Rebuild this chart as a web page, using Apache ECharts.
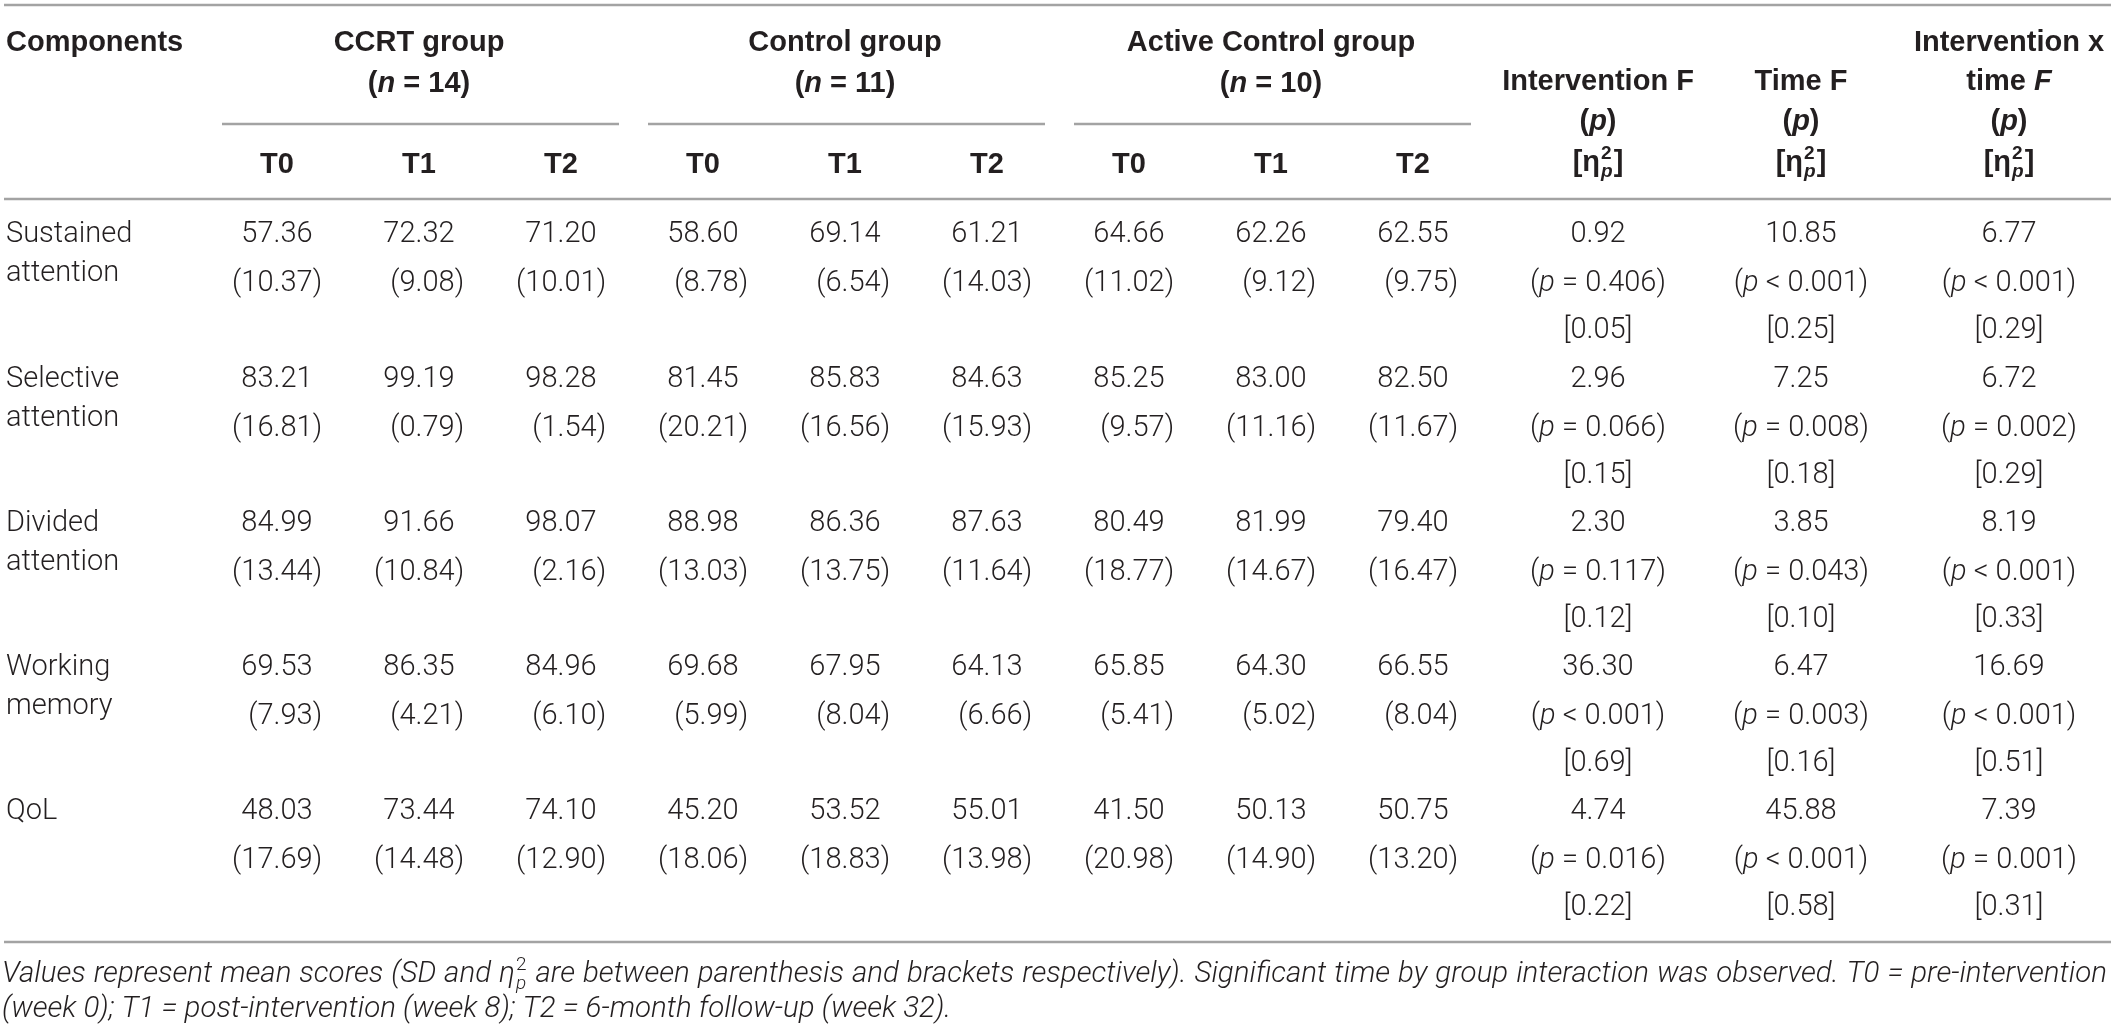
<!DOCTYPE html>
<html>
<head>
<meta charset="utf-8">
<script src="https://cdn.jsdelivr.net/npm/echarts@6/dist/echarts.min.js"></script>
<style>
html, body {margin: 0; padding: 0; background: #fff;}
#chart {width: 2117px; height: 1033px;}
</style>
</head>
<body>
<div id="chart"></div>
<script>
// table content
var components = [['Sustained', 'attention'], ['Selective', 'attention'], ['Divided', 'attention'], ['Working', 'memory'], ['QoL']];
var groups = ['CCRT group', 'Control group', 'Active Control group'];
var groupN = [14, 11, 10];
var times = ['T0', 'T1', 'T2'];
// means, columns: CCRT T0-T2, Control T0-T2, Active Control T0-T2
var means = [
    [57.36, 72.32, 71.20, 58.60, 69.14, 61.21, 64.66, 62.26, 62.55],
    [83.21, 99.19, 98.28, 81.45, 85.83, 84.63, 85.25, 83.00, 82.50],
    [84.99, 91.66, 98.07, 88.98, 86.36, 87.63, 80.49, 81.99, 79.40],
    [69.53, 86.35, 84.96, 69.68, 67.95, 64.13, 65.85, 64.30, 66.55],
    [48.03, 73.44, 74.10, 45.20, 53.52, 55.01, 41.50, 50.13, 50.75]
];
var sds = [
    [10.37, 9.08, 10.01, 8.78, 6.54, 14.03, 11.02, 9.12, 9.75],
    [16.81, 0.79, 1.54, 20.21, 16.56, 15.93, 9.57, 11.16, 11.67],
    [13.44, 10.84, 2.16, 13.03, 13.75, 11.64, 18.77, 14.67, 16.47],
    [7.93, 4.21, 6.10, 5.99, 8.04, 6.66, 5.41, 5.02, 8.04],
    [17.69, 14.48, 12.90, 18.06, 18.83, 13.98, 20.98, 14.90, 13.20]
];
var statTitles = [['Intervention F'], ['Time F'], ['Intervention x', 'time {bi|F}']];
var interventionF = [0.92, 2.96, 2.30, 36.30, 4.74];
var interventionP = ['= 0.406', '= 0.066', '= 0.117', '< 0.001', '= 0.016'];
var interventionEta = [0.05, 0.15, 0.12, 0.69, 0.22];
var timeF = [10.85, 7.25, 3.85, 6.47, 45.88];
var timeP = ['< 0.001', '= 0.008', '= 0.043', '= 0.003', '< 0.001'];
var timeEta = [0.25, 0.18, 0.10, 0.16, 0.58];
var interactionF = [6.77, 6.72, 8.19, 16.69, 7.39];
var interactionP = ['< 0.001', '= 0.002', '< 0.001', '< 0.001', '= 0.001'];
var interactionEta = [0.29, 0.29, 0.33, 0.51, 0.31];
var footnote = [
    'Values represent mean scores (SD and',
    'are between parenthesis and brackets respectively). Significant time by group interaction was observed. T0 = pre-intervention',
    '(week 0); T1 = post-intervention (week 8); T2 = 6-month follow-up (week 32).'
];

// layout
var W = 2117, H = 1033;
var HEAD_FONT = '"Liberation Sans", Arial, Helvetica, sans-serif';
var BODY_FONT = 'Roboto, "Liberation Sans", Arial, sans-serif';
var BODY_WEIGHT = 300;
var FS = 29, FOOT_FS = 29.5;
var INK = '#231f20', RULE = '#a3a3a3';
var colX0 = 277, colStep = 142;
var statX = [1598, 1801, 2009];
var rowY0 = 235, rowStep = 144.3;
var FOOT_RIGHT = 2107; // footnote first line is justified to this edge

var ctx = document.createElement('canvas').getContext('2d');
function measure(t, size, weight, style, family) {
    ctx.font = (style || 'normal') + ' ' + (weight || 'normal') + ' ' + size + 'px ' + family;
    return ctx.measureText(t).width;
}
function colX(j) { return colX0 + j * colStep; }

var statF = [interventionF, timeF, interactionF];
var statP = [interventionP, timeP, interactionP];
var statEta = [interventionEta, timeEta, interactionEta];

var cells = [];
function add(x, y, text, opt) {
    cells.push(Object.assign({x: x, y: y, text: text, align: 'center'}, opt || {}));
}

// header
add(6, 43, 'Components', {bold: true, align: 'left'});
groups.forEach(function (g, k) {
    var cx = colX(3 * k + 1);
    add(cx, 43, g, {bold: true});
    add(cx, 84, '({bi|n} = ' + groupN[k] + ')', {bold: true});
    times.forEach(function (t, j) {
        add(colX(3 * k + j), 165, t, {bold: true});
    });
});
statTitles.forEach(function (lines, s) {
    var y = lines.length === 1 ? 82 : 43;
    lines.forEach(function (l, m) {
        add(statX[s], y + m * 39, l, {bold: true});
    });
    add(statX[s], 122, '({bi|p})', {bold: true});
    add(statX[s], 163, '', {bold: true, kind: 'eta', pre: '[', post: ']'});
});

// body
var sdShift = measure('00.00', FS, BODY_WEIGHT, 'normal', BODY_FONT) / 2 + measure(')', FS, BODY_WEIGHT, 'normal', BODY_FONT);
components.forEach(function (lab, i) {
    var y0 = rowY0 + i * rowStep;
    lab.forEach(function (l, m) {
        add(6, y0 + m * 39, l, {align: 'left'});
    });
    means[i].forEach(function (v, j) {
        add(colX(j), y0, v.toFixed(2));
        add(colX(j) + sdShift, y0 + 49, '(' + sds[i][j].toFixed(2) + ')', {align: 'right'});
    });
    for (var s = 0; s < 3; s++) {
        add(statX[s], y0, statF[s][i].toFixed(2));
        add(statX[s], y0 + 49, '({i|p} ' + statP[s][i] + ')');
        add(statX[s], y0 + 96, '[' + statEta[s][i].toFixed(2) + ']');
    }
});

// footnote
add(2, 975, '', {kind: 'foot'});
add(2, 1010, footnote[2], {align: 'left', italic: true, size: FOOT_FS});

var rules = [
    [4, 5, 2111],
    [4, 199, 2111],
    [4, 942, 2111],
    [colX(0) - 55, 124, colX(2) + 58],
    [colX(3) - 55, 124, colX(5) + 58],
    [colX(6) - 55, 124, colX(8) + 58]
];

function fontOf(bold) {
    return bold ? {family: HEAD_FONT, weight: 'bold'} : {family: BODY_FONT, weight: BODY_WEIGHT};
}

function textEl(x, y, text, size, bold, style, align) {
    var f = fontOf(bold);
    return {
        type: 'text', x: x, y: y,
        style: {
            text: text, fontFamily: f.family, fontSize: size, fontWeight: f.weight,
            fontStyle: style, fill: INK, align: align, verticalAlign: 'middle',
            rich: {
                i: {fontFamily: BODY_FONT, fontSize: size, fontStyle: 'italic', fontWeight: BODY_WEIGHT, fill: INK},
                bi: {fontFamily: HEAD_FONT, fontSize: size, fontStyle: 'italic', fontWeight: 'bold', fill: INK}
            }
        }
    };
}

// eta with stacked 2 / p
function etaParts(x0, y, size, bold, etaStyle, pre, post) {
    var f = fontOf(bold);
    var small = Math.round(size * 0.66);
    var left = pre + '\u03b7';
    var wl = measure(left, size, f.weight, etaStyle, f.family);
    var ws = Math.max(measure('2', small, f.weight, 'normal', f.family), measure('p', small, f.weight, 'italic', f.family));
    var kids = [
        textEl(x0, y, left, size, bold, etaStyle, 'left'),
        textEl(x0 + wl + 1, y - size * 0.33, '2', small, bold, 'normal', 'left'),
        textEl(x0 + wl + 1, y + size * 0.3, 'p', small, bold, 'italic', 'left')
    ];
    if (post) kids.push(textEl(x0 + wl + ws + 2, y, post, size, bold, 'normal', 'left'));
    return {kids: kids, width: wl + ws + 2 + (post ? measure(post, size, f.weight, 'normal', f.family) : 0)};
}

// justified first footnote line: words, stacked eta, words
function footLine(p) {
    var words = footnote[0].split(' ');
    var tokens = words.map(function (w) { return {t: w}; });
    tokens.push({eta: true});
    footnote[1].split(' ').forEach(function (w) { tokens.push({t: w}); });
    var natural = 0;
    tokens.forEach(function (tk) {
        tk.w = tk.eta ? etaParts(0, 0, FOOT_FS, false, 'italic', '', '').width
            : measure(tk.t, FOOT_FS, BODY_WEIGHT, 'italic', BODY_FONT);
        natural += tk.w;
    });
    var gaps = tokens.length - 1;
    var gap = (FOOT_RIGHT - p[0] - natural) / gaps;
    var x = p[0], kids = [];
    tokens.forEach(function (tk) {
        if (tk.eta) {
            kids = kids.concat(etaParts(x, p[1], FOOT_FS, false, 'italic', '', '').kids);
        }
        else {
            kids.push(textEl(x, p[1], tk.t, FOOT_FS, false, 'italic', 'left'));
        }
        x += tk.w + gap;
    });
    return {type: 'group', children: kids};
}

function renderCell(params, api) {
    var c = cells[params.dataIndex];
    var p = api.coord([c.x, c.y]);
    var size = c.size || FS;
    if (c.kind === 'eta') {
        var probe = etaParts(0, 0, size, c.bold, 'normal', c.pre, c.post);
        return {type: 'group', children: etaParts(p[0] - probe.width / 2, p[1], size, c.bold, 'normal', c.pre, c.post).kids};
    }
    if (c.kind === 'foot') {
        return footLine(p);
    }
    return textEl(p[0], p[1], c.text, size, c.bold, c.italic ? 'italic' : 'normal', c.align);
}

function renderRule(params, api) {
    var a = api.coord([api.value(0), api.value(1)]);
    var b = api.coord([api.value(2), api.value(1)]);
    return {
        type: 'line',
        shape: {x1: a[0], y1: a[1], x2: b[0], y2: b[1]},
        style: {stroke: RULE, lineWidth: 2.5}
    };
}

var chart = echarts.init(document.getElementById('chart'));
chart.setOption({
    animation: false,
    backgroundColor: '#fff',
    grid: {left: 0, right: 0, top: 0, bottom: 0},
    xAxis: {type: 'value', min: 0, max: W, show: false},
    yAxis: {type: 'value', min: 0, max: H, inverse: true, show: false},
    series: [
        {
            type: 'custom',
            renderItem: renderRule,
            encode: {x: [0, 2], y: 1},
            data: rules,
            silent: true
        },
        {
            type: 'custom',
            renderItem: renderCell,
            encode: {x: 0, y: 1},
            data: cells.map(function (c) { return [c.x, c.y]; }),
            silent: true,
            clip: false
        }
    ]
});
</script>
</body>
</html>
